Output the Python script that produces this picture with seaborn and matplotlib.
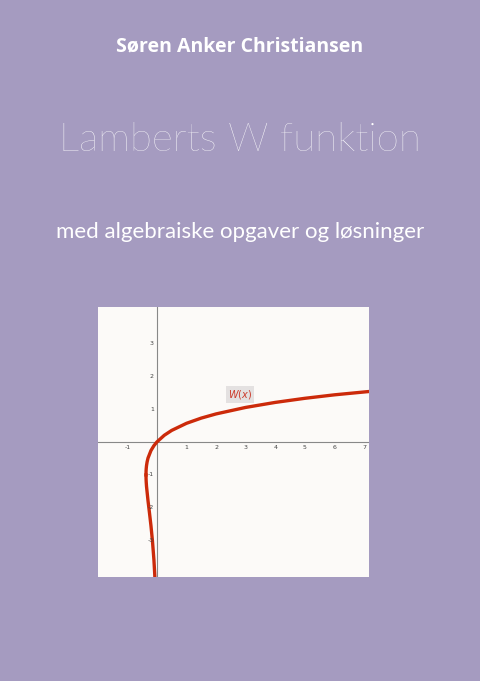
import matplotlib
matplotlib.use("Agg")
import matplotlib.pyplot as plt
import seaborn as sns
import pandas as pd

author = "Søren Anker Christiansen"
title = "Lamberts W funktion"
subtitle = "med algebraiske opgaver og løsninger"

# principal branch W0
x_w0 = [-0.3679, -0.365, -0.36, -0.35, -0.33, -0.3, -0.2, -0.1, 0, 0.25, 0.5, 1, 1.5, 2, 3, 4, 5, 6, 7.2]
y_w0 = [-1.0, -0.875, -0.806, -0.7166, -0.604, -0.4894, -0.2592, -0.1118, 0, 0.2039, 0.3517, 0.5671, 0.7259, 0.8526, 1.0499, 1.2022, 1.3267, 1.4324, 1.536]
# lower branch W-1
x_wm1 = [-0.3679, -0.365, -0.36, -0.35, -0.3, -0.25, -0.2, -0.15, -0.1, -0.0733, -0.068]
y_wm1 = [-1.0, -1.13, -1.22, -1.35, -1.7813, -2.1533, -2.5426, -3.0, -3.5772, -4.0, -4.1]

xticks = [-1, 1, 2, 3, 4, 5, 6, 7]
yticks = [-3, -2, -1, 1, 2, 3]

df0 = pd.DataFrame({"x": x_w0, "y": y_w0})
df1 = pd.DataFrame({"x": x_wm1, "y": y_wm1})

bg = "#a59bc0"
fig = plt.figure(figsize=(4.8, 6.81), dpi=100, facecolor=bg)
fig.text(0.5, 1 - 46/681, author, ha="center", va="center", color="white",
         fontsize=14, fontweight="bold", family="Open Sans")
fig.text(0.5, 1 - 140/681, title, ha="center", va="center", color="white",
         fontsize=29, fontweight="light", family="Lato")
fig.text(0.5, 1 - 232/681, subtitle, ha="center", va="center", color="white",
         fontsize=16, family="Lato")

ax = fig.add_axes([98/480, 104/681, 271/480, 270/681])
ax.set_facecolor("#fcfaf8")
ax.set_xlim(-1.99, 7.17)
ax.set_ylim(-4.1, 4.1)
for s in ax.spines.values():
    s.set_visible(False)
ax.axhline(0, color="#888888", lw=0.8)
ax.axvline(0, color="#888888", lw=0.8)
sns.lineplot(data=df0, x="x", y="y", ax=ax, color="#cc2a0a", lw=2.4, sort=False)
sns.lineplot(data=df1, x="x", y="y", ax=ax, color="#cc2a0a", lw=2.4, sort=False)
ax.set_xticks([]); ax.set_yticks([])
ax.set_xlabel(""); ax.set_ylabel("")
for t in xticks:
    ax.text(t, -0.1, str(t), ha="center", va="top", fontsize=4.5, color="#444444")
for t in yticks:
    ax.text(-0.1, t, str(t), ha="right", va="center", fontsize=4.5, color="#444444")
ax.text(2.8, 1.45, "$W(x)$", ha="center", va="center", fontsize=7, color="#cc3a2a",
        bbox=dict(facecolor="#e4e1e1", edgecolor="none", pad=1.5))

fig.savefig("out.png", dpi=100, facecolor=bg)
